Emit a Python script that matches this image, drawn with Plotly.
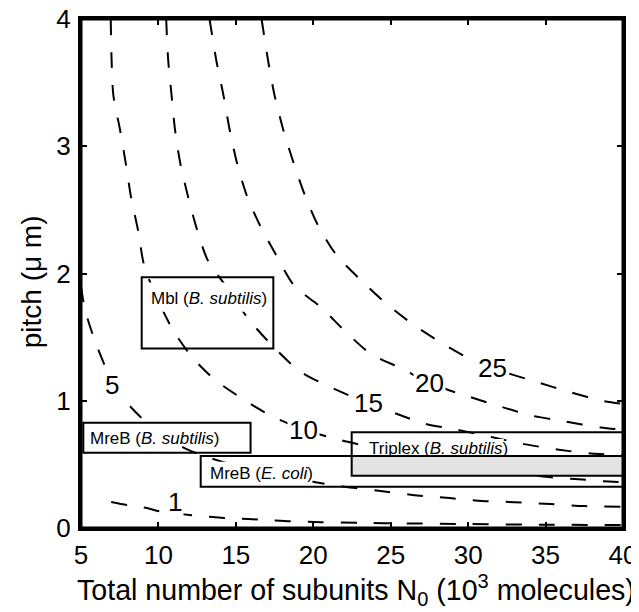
import plotly.graph_objects as go

# ---- contour levels and the points ----
levels = [1, 5, 10, 15, 20, 25]

n0_c1 = [6.95, 8.0, 9.3, 10.1, 12.2, 13.5, 14.6, 15.8, 17.0, 18.5, 20.5, 23.0, 26.0, 30.0, 35.0, 40.0]
p_c1 = [0.205, 0.18, 0.155, 0.13, 0.10, 0.086, 0.077, 0.07, 0.063, 0.053, 0.046, 0.04, 0.036, 0.031, 0.026, 0.023]

n0_c5 = [5.0, 5.25, 5.9, 6.55, 7.0, 8.1, 9.4, 11.65, 13.35, 16.5, 20.15, 22.0, 24.1, 26.4, 28.8, 30.9, 33.0, 35.3, 37.5, 40.0]
p_c5 = [1.9, 1.72, 1.47, 1.27, 1.12, 0.965, 0.81, 0.63, 0.55, 0.44, 0.36, 0.325, 0.295, 0.26, 0.235, 0.212, 0.203, 0.188, 0.172, 0.167]

n0_c10 = [6.92, 6.98, 7.09, 7.52, 7.9, 8.23, 8.7, 9.13, 10.85, 12.2, 13.7, 15.5, 17.3, 19.35, 21.6, 23.2, 27.0, 31.0, 35.0, 36.9, 39.1, 40.0]
p_c10 = [4.0, 3.66, 3.4, 3.13, 2.86, 2.6, 2.33, 2.04, 1.575, 1.34, 1.16, 1.01, 0.88, 0.775, 0.695, 0.65, 0.55, 0.465, 0.403, 0.385, 0.365, 0.36]

n0_c15 = [10.5, 10.64, 10.85, 11.07, 11.39, 11.9, 12.47, 13.2, 14.3, 15.8, 17.3, 19.15, 21.05, 23.55, 25.55, 27.2, 29.35, 31.5, 33.5, 35.75, 37.95, 40.0]
p_c15 = [4.0, 3.66, 3.4, 3.13, 2.88, 2.61, 2.355, 2.1, 1.91, 1.645, 1.44, 1.23, 1.11, 0.98, 0.89, 0.82, 0.77, 0.715, 0.662, 0.617, 0.585, 0.574]

n0_c20 = [13.3, 13.76, 14.2, 14.6, 15.05, 15.7, 16.55, 17.6, 18.8, 20.45, 22.15, 23.7, 25.75, 27.53, 29.85, 31.95, 34.05, 36.25, 38.55, 40.0]
p_c20 = [4.0, 3.66, 3.4, 3.13, 2.88, 2.615, 2.38, 2.145, 1.9, 1.74, 1.535, 1.37, 1.25, 1.137, 1.04, 0.96, 0.885, 0.837, 0.79, 0.772]

n0_c25 = [16.66, 17.1, 17.5, 18.06, 18.7, 19.46, 20.3, 21.5, 23.1, 24.7, 26.5, 28.35, 29.95, 31.6, 34.5, 36.5, 38.65, 40.0]
p_c25 = [4.0, 3.66, 3.4, 3.13, 2.88, 2.615, 2.38, 2.145, 1.945, 1.765, 1.595, 1.45, 1.34, 1.255, 1.145, 1.07, 1.0, 0.975]

curves_x = [n0_c1, n0_c5, n0_c10, n0_c15, n0_c20, n0_c25]
curves_y = [p_c1, p_c5, p_c10, p_c15, p_c20, p_c25]

# contour label positions (N0, pitch)
label_n0 = [11.07, 6.98, 19.35, 23.55, 27.53, 31.6]
label_p = [0.204, 1.124, 0.77, 0.98, 1.137, 1.255]

# observed ranges: [N0 min, N0 max, pitch min, pitch max]
region_names = ["Mbl (<i>B. subtilis</i>)", "MreB (<i>B. subtilis</i>)",
                "MreB (<i>E. coli</i>)", "Triplex (<i>B. subtilis</i>)"]
region_n0_min = [8.92, 5.15, 12.73, 22.48]
region_n0_max = [17.42, 15.95, 40.0, 40.0]
region_p_min = [1.41, 0.592, 0.325, 0.41]
region_p_max = [1.97, 0.828, 0.566, 0.752]

x_ticks = [5, 10, 15, 20, 25, 30, 35, 40]
y_ticks = [0, 1, 2, 3, 4]

FONT = "Liberation Sans, Arial, Helvetica, sans-serif"

fig = go.Figure()
for cx, cy in zip(curves_x, curves_y):
    fig.add_trace(go.Scatter(
        x=cx, y=cy, mode="lines",
        line=dict(color="black", width=2, dash="16px,17px", shape="spline", smoothing=0.8),
        showlegend=False, hoverinfo="skip"))

shapes = []
text_pos_x = [9.41, 5.47, 13.22, 23.44]
text_pos_y = [1.805, 0.705, 0.43, 0.626]
text_bg = [(9.2, 17.0, 1.70, 1.93), (5.35, 13.9, 0.645, 0.79),
           (13.1, 19.95, 0.345, 0.52), (23.35, 32.3, 0.575, 0.70)]
for (x0, x1, y0, y1) in text_bg:
    shapes.append(dict(type="rect", xref="x", yref="y", x0=x0, x1=x1, y0=y0, y1=y1,
                       fillcolor="white", line=dict(width=0), layer="above"))
shapes.append(dict(type="rect", xref="x", yref="y",
                   x0=max(region_n0_min[2], region_n0_min[3]), x1=min(region_n0_max[2], region_n0_max[3]),
                   y0=max(region_p_min[2], region_p_min[3]), y1=min(region_p_max[2], region_p_max[3]),
                   fillcolor="#e3e3e3", line=dict(width=0), layer="above"))
for i in range(len(region_names)):
    shapes.append(dict(type="rect", xref="x", yref="y",
                       x0=region_n0_min[i], x1=region_n0_max[i],
                       y0=region_p_min[i], y1=region_p_max[i],
                       fillcolor="rgba(0,0,0,0)", line=dict(color="black", width=2), layer="above"))
# plot frame drawn explicitly so it stays visible on every side
shapes.append(dict(type="rect", xref="paper", yref="paper", x0=0, x1=1, y0=0, y1=1,
                   fillcolor="rgba(0,0,0,0)", line=dict(color="black", width=3), layer="above"))

annotations = []
for i, name in enumerate(region_names):
    annotations.append(dict(x=text_pos_x[i], y=text_pos_y[i], xref="x", yref="y",
                            text=name, showarrow=False, xanchor="left", yanchor="middle",
                            font=dict(family=FONT, size=17, color="black")))
for lv, lx, ly in zip(levels, label_n0, label_p):
    annotations.append(dict(x=lx, y=ly, xref="x", yref="y", text=str(lv), showarrow=False,
                            xanchor="center", yanchor="middle", bgcolor="white", borderpad=1,
                            font=dict(family=FONT, size=26, color="black")))
# axis titles
annotations.append(dict(x=0.508, y=-0.122, xref="paper", yref="paper", xanchor="center", yanchor="middle",
                        text="Total number of subunits N<sub>0</sub> (10<sup>3</sup> molecules)",
                        showarrow=False, font=dict(family=FONT, size=28.6, color="black")))
annotations.append(dict(x=-0.092, y=0.483, xref="paper", yref="paper", xanchor="center", yanchor="middle",
                        text="pitch (μ m)", textangle=-90,
                        showarrow=False, font=dict(family=FONT, size=28, color="black")))

axis_common = dict(showgrid=False, zeroline=False, showline=True, linecolor="black", linewidth=3,
                   mirror="allticks", ticks="inside", ticklen=6, tickwidth=2, tickcolor="black",
                   automargin=False, ticklabeloverflow="allow",
                   tickfont=dict(family=FONT, size=26, color="black"))

# the page body adds an 8 px offset, so the figure is 8 px smaller and shifted
fig.update_layout(
    width=631, height=604,
    margin=dict(l=73, r=16, t=11, b=84),
    paper_bgcolor="white", plot_bgcolor="white",
    shapes=shapes, annotations=annotations,
    xaxis=dict(range=[5, 40], tickvals=x_ticks, ticktext=[str(v) for v in x_ticks],
               ticklabelstandoff=2, **axis_common),
    yaxis=dict(range=[0, 4], tickvals=y_ticks, ticktext=[str(v) for v in y_ticks],
               ticklabelstandoff=2, **axis_common),
)

fig.write_html("out.html")
